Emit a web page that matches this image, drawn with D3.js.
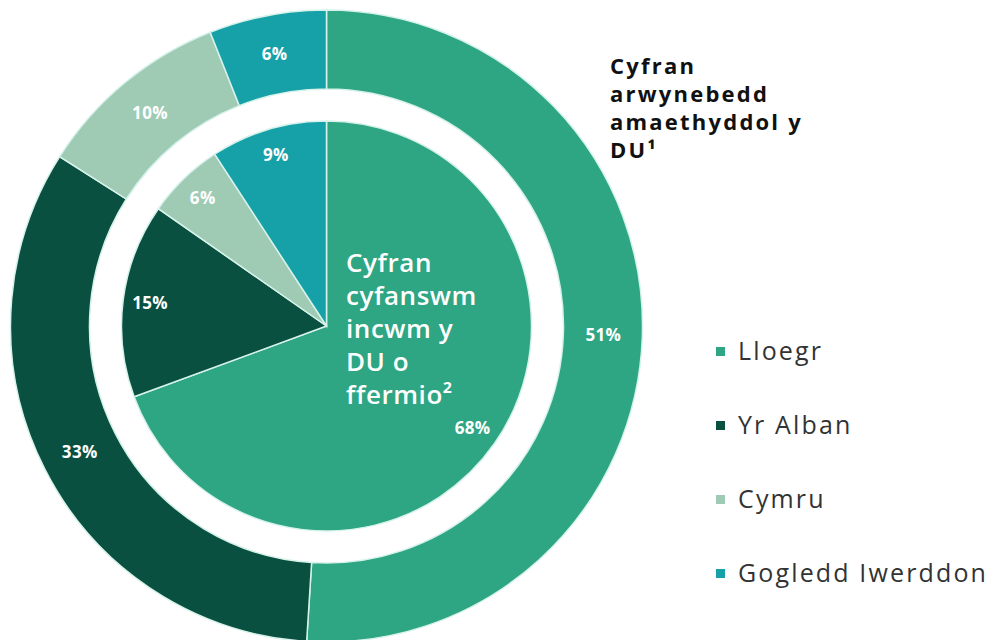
<!DOCTYPE html>
<html><head><meta charset="utf-8">
<script src="https://cdn.jsdelivr.net/npm/d3@7"></script>
<style>body{margin:0;background:#fff} svg{display:block}</style>
</head><body>
<svg id="chart" width="992" height="640"></svg>
<script>
// ---- data ----
const categories = ["Lloegr", "Yr Alban", "Cymru", "Gogledd Iwerddon"];
const landShare = [51, 33, 10, 6];      // outer ring: share of UK agricultural area
const incomeShare = [68, 15, 6, 9];     // inner pie: share of UK total income from farming
const colors = ["#2ea684", "#0a5040", "#9fcbb5", "#16a0a8"];
const outerTitle = ["Cyfran", "arwynebedd", "amaethyddol y", "DU¹"];
const innerTitle = ["Cyfran", "cyfanswm", "incwm y", "DU o", "ffermio²"];

// ---- layout ----
const cx = 326.5, cy = 326;
const FONT = "'Open Sans', 'Noto Sans', sans-serif";
const svg = d3.select("#chart");
const color = d3.scaleOrdinal(categories, colors);

const pie = d3.pie().sort(null).value(d => d.v);
const outerData = pie(categories.map((c, i) => ({c, v: landShare[i]})));
const innerData = pie(categories.map((c, i) => ({c, v: incomeShare[i]})));

const g = svg.append("g").attr("transform", `translate(${cx},${cy})`);

const outerArc = d3.arc().innerRadius(237).outerRadius(316);
const innerArc = d3.arc().innerRadius(0).outerRadius(205);
const outerLabelArc = d3.arc().innerRadius(277).outerRadius(277);
const innerLabelArc = d3.arc().innerRadius(178).outerRadius(178);

g.selectAll("path.outer").data(outerData).join("path")
  .attr("class", "outer")
  .attr("d", outerArc)
  .attr("fill", d => color(d.data.c))
  .attr("stroke", "#d6f2ea").attr("stroke-width", 1.5);

g.selectAll("path.inner").data(innerData).join("path")
  .attr("class", "inner")
  .attr("d", innerArc)
  .attr("fill", d => color(d.data.c))
  .attr("stroke", "#d6f2ea").attr("stroke-width", 1.5);

function fitSpacing(sel, target) {
  let maxW = 0, maxN = 1;
  sel.each(function() {
    const w = this.getComputedTextLength();
    if (w > maxW) { maxW = w; maxN = this.textContent.length; }
  });
  const ls = Math.max(0, (target - maxW) / maxN);
  sel.attr("letter-spacing", ls.toFixed(2));
}

g.selectAll("text.olab").data(outerData).join("text")
  .attr("class", "olab pct")
  .attr("transform", d => `translate(${outerLabelArc.centroid(d)})`)
  .text(d => d.data.v + "%");
g.selectAll("text.ilab").data(innerData).join("text")
  .attr("class", "ilab pct")
  .attr("transform", d => `translate(${innerLabelArc.centroid(d)})`)
  .text(d => d.data.v + "%");
g.selectAll("text.pct")
  .attr("text-anchor", "middle").attr("dy", "0.36em")
  .attr("fill", "#ffffff").attr("font-family", FONT)
  .attr("font-weight", 700).attr("font-size", 17)
  .attr("letter-spacing", 0.3);

// centre title
const ct = svg.append("g").selectAll("text").data(innerTitle).join("text")
  .attr("x", 346).attr("y", (d, i) => 272 + i * 33)
  .attr("fill", "#ffffff").attr("font-family", FONT)
  .attr("font-weight", 600).attr("font-size", 26)
  .text(d => d);
fitSpacing(ct, 131);

// outer title
const ot = svg.append("g").selectAll("text").data(outerTitle).join("text")
  .attr("x", 610).attr("y", (d, i) => 74 + i * 28)
  .attr("fill", "#111111").attr("font-family", FONT)
  .attr("font-weight", 700).attr("font-size", 22)
  .text(d => d);
fitSpacing(ot, 193);

// legend
const lg = svg.append("g").selectAll("g").data(categories).join("g")
  .attr("transform", (d, i) => `translate(716,${360 + i * 74})`);
lg.append("rect").attr("x", 0).attr("y", -13).attr("width", 9).attr("height", 9)
  .attr("fill", d => color(d));
const lt = lg.append("text").attr("x", 22).attr("y", 0)
  .attr("fill", "#333333").attr("font-family", FONT)
  .attr("font-weight", 400).attr("font-size", 25)
  .text(d => d);
fitSpacing(lt, 250);
</script>
</body></html>
